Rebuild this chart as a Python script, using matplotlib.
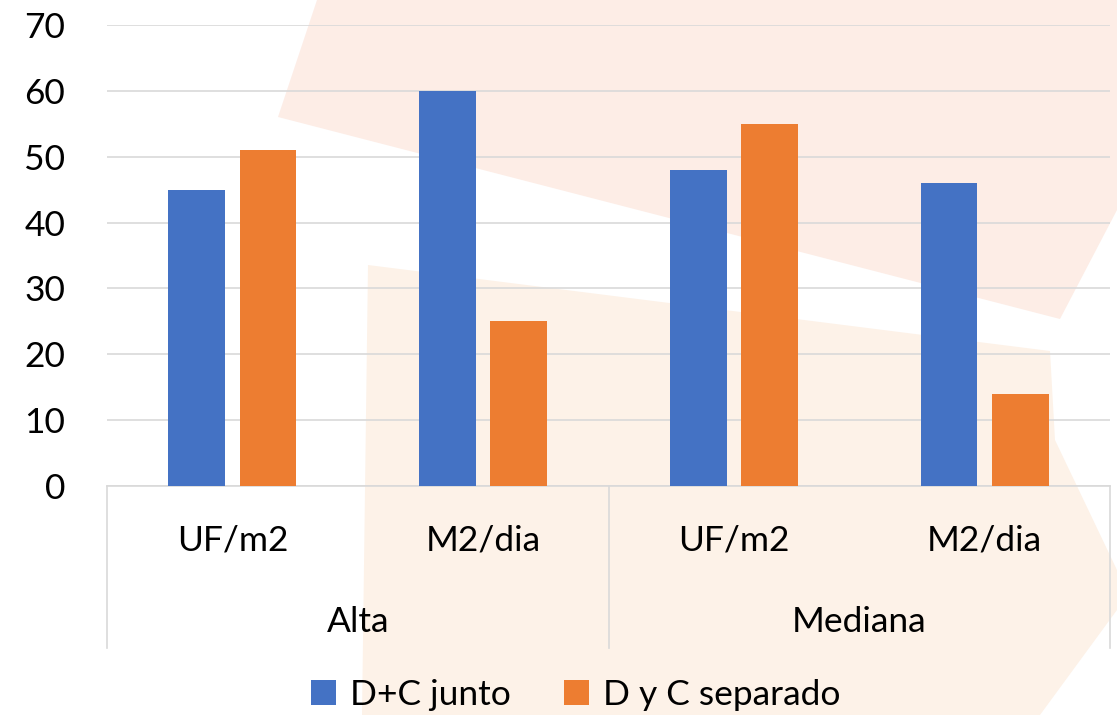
import matplotlib
matplotlib.use("Agg")
import matplotlib.pyplot as plt
import matplotlib.transforms as mtransforms
from matplotlib.patches import Polygon, Patch

# data
groups = ["Alta", "Mediana"]
subcats = ["UF/m2", "M2/dia", "UF/m2", "M2/dia"]
series_names = ["D+C junto", "D y C separado"]
junto = [45, 60, 48, 46]
separado = [51, 25, 55, 14]
yticks = [0, 10, 20, 30, 40, 50, 60, 70]

BLUE = "#4472C4"
ORANGE = "#ED7D31"
GRID = "#D9D9D9"
FS = 25.5

plt.rcParams["font.family"] = ["Lato", "DejaVu Sans"]

W, H = 1117, 715
fig = plt.figure(figsize=(W / 100, H / 100), dpi=100)


def px(points):
    # pixel coords (top-left origin) -> figure fraction
    return [(x / W, 1 - y / H) for x, y in points]


# faint watermark shapes in the background
shape_a = [(317, 0), (1117, 0), (1117, 210), (1060, 319), (278, 117)]
shape_b = [(368, 265), (1050, 351), (1055, 440), (1117, 570), (1117, 610),
           (1040, 715), (362, 715)]
fig.patches.append(Polygon(px(shape_a), closed=True, transform=fig.transFigure,
                           facecolor="#FDEDE6", edgecolor="none", zorder=-2))
fig.patches.append(Polygon(px(shape_b), closed=True, transform=fig.transFigure,
                           facecolor="#FDF2E8", edgecolor="none", zorder=-2))

ax = fig.add_axes([107 / W, (H - 486) / H, (1110 - 107) / W, (486 - 25) / H])
ax.patch.set_alpha(0)

x = list(range(len(subcats)))
bw = 0.227
off = 0.142
ax.bar([i - off for i in x], junto, width=bw, color=BLUE, zorder=3, label=series_names[0])
ax.bar([i + off for i in x], separado, width=bw, color=ORANGE, zorder=3, label=series_names[1])

ax.set_xlim(-0.5, len(subcats) - 0.5)
ax.set_ylim(0, 70)
ax.set_yticks(yticks)
ax.set_yticklabels([str(v) for v in yticks], fontsize=FS)
ax.tick_params(axis="y", length=0, pad=30)
ax.set_xticks([])
ax.yaxis.grid(True, color=GRID, linewidth=1.2, zorder=1)
for s in ["top", "right", "left"]:
    ax.spines[s].set_visible(False)
ax.spines["bottom"].set_color(GRID)
ax.spines["bottom"].set_linewidth(1.2)

trans = mtransforms.blended_transform_factory(ax.transData, ax.transAxes)
for i, lab in enumerate(subcats):
    ax.text(i, -0.119, lab, transform=trans, ha="center", va="center", fontsize=FS)
for g, lab in enumerate(groups):
    ax.text(2 * g + 0.5, -0.295, lab, transform=trans, ha="center", va="center", fontsize=FS)
for xs in [-0.5, 1.5, 3.5]:
    ax.plot([xs, xs], [0, -0.351], transform=trans, color=GRID, linewidth=1.2, clip_on=False)

handles = [Patch(facecolor=BLUE), Patch(facecolor=ORANGE)]
fig.legend(handles, series_names, loc="center", bbox_to_anchor=(576 / W, 1 - 695 / H),
           ncol=2, frameon=False, fontsize=FS, handlelength=0.7, handleheight=0.7,
           handletextpad=0.4, columnspacing=1.5, borderpad=0.2)

fig.savefig("out.png", dpi=100)
